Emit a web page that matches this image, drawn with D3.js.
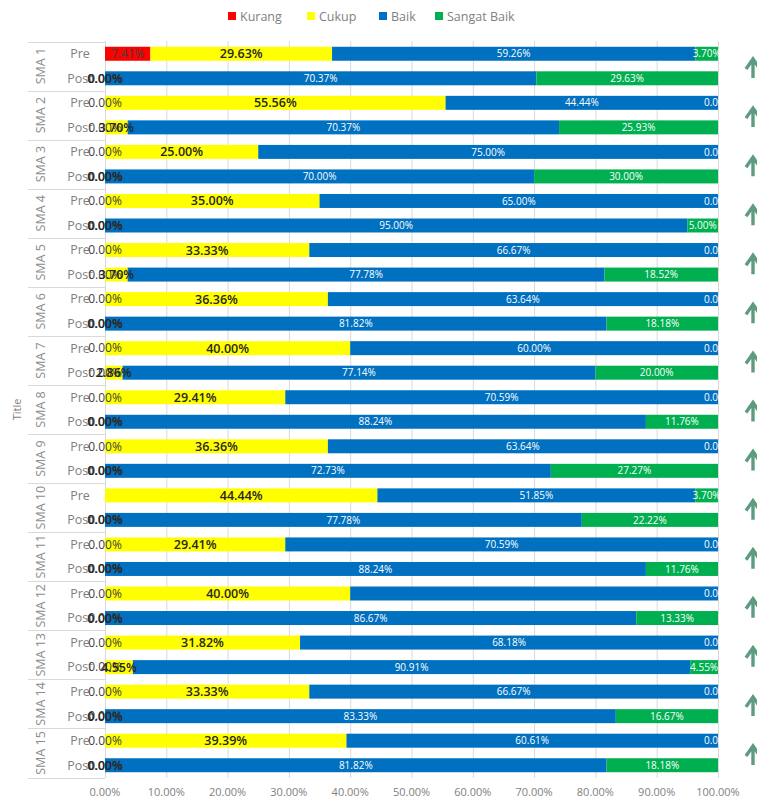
<!DOCTYPE html>
<html><head><meta charset="utf-8">
<script src="https://cdn.jsdelivr.net/npm/d3@7/dist/d3.min.js"></script>
<style>
html,body{margin:0;padding:0;background:#fff;}
svg{display:block;font-family:"Open Sans","Noto Sans",sans-serif;}
</style></head>
<body>
<svg id="chart" width="757" height="807"></svg>
<script>
const schools = ["SMA 1","SMA 2","SMA 3","SMA 4","SMA 5","SMA 6","SMA 7","SMA 8","SMA 9","SMA 10","SMA 11","SMA 12","SMA 13","SMA 14","SMA 15"];
const phases = ["Pre","Post"];
const seriesNames = ["Kurang","Cukup","Baik","Sangat Baik"];
const seriesColors = ["#FF0000","#FFFF00","#0070C0","#00B050"];
const labelColors = ["#404040","#262626","#ffffff","#ffffff"];
// row order: SMA 1 Pre, SMA 1 Post, SMA 2 Pre, ...
const kurang = [7.41,0, 0,0, 0,0, 0,0, 0,0, 0,0, 0,0, 0,0, 0,0, null,0, 0,0, 0,0, 0,0, 0,0, 0,0];
const cukup = [29.63,0, 55.56,3.70, 25.00,0, 35.00,0, 33.33,3.70, 36.36,0, 40.00,2.86, 29.41,0, 36.36,0, 44.44,0, 29.41,0, 40.00,0, 31.82,4.55, 33.33,0, 39.39,0];
const baik = [59.26,70.37, 44.44,70.37, 75.00,70.00, 65.00,95.00, 66.67,77.78, 63.64,81.82, 60.00,77.14, 70.59,88.24, 63.64,72.73, 51.85,77.78, 70.59,88.24, 60.00,86.67, 68.18,90.91, 66.67,83.33, 60.61,81.82];
const sangatBaik = [3.70,29.63, 0,25.93, 0,30.00, 0,5.00, 0,18.52, 0,18.18, 0,20.00, 0,11.76, 0,27.27, 3.70,22.22, 0,11.76, 0,13.33, 0,4.55, 0,16.67, 0,18.18];
const hiddenLabels = ["SMA 12|Pre|Baik"];
const xTicks = [0,10,20,30,40,50,60,70,80,90,100];
const axisTitle = "Title";

const seriesValues = [kurang, cukup, baik, sangatBaik];
const rows = [];
schools.forEach((s,i)=>phases.forEach((p,j)=>rows.push({school:s, phase:p, key:s+"|"+p, idx:i*2+j})));

const svg = d3.select("#chart");
const x = d3.scaleLinear().domain([0,100]).range([105,718]);
const y = d3.scaleBand().domain(rows.map(r=>r.key)).range([41.5,777.5]).paddingInner(0.43).paddingOuter(0.215);
const gScale = d3.scaleBand().domain(schools).range([41.5,777.5]);

// gridlines
svg.append("g").selectAll("line").data(xTicks).join("line")
  .attr("x1",d=>x(d)+0.5).attr("x2",d=>x(d)+0.5)
  .attr("y1",41).attr("y2",778)
  .attr("stroke","#d9d9d9").attr("stroke-width",1);

// left category separators
svg.append("g").selectAll("line").data(schools.concat(["__end"])).join("line")
  .attr("x1",28).attr("x2",105)
  .attr("y1",(d,i)=>Math.round(41.5+i*gScale.step())+0.5)
  .attr("y2",(d,i)=>Math.round(41.5+i*gScale.step())+0.5)
  .attr("stroke","#d9d9d9").attr("stroke-width",1);

// stacked segments
const segs = [];
rows.forEach(r=>{
  let cum = 0;
  seriesValues.forEach((arr,k)=>{
    const v = arr[r.idx];
    segs.push({row:r, k, v, x0:cum, x1:cum+(v||0)});
    cum += (v||0);
  });
});
svg.append("g").selectAll("rect").data(segs.filter(d=>d.v>0)).join("rect")
  .attr("x",d=>x(d.x0)).attr("width",d=>Math.max(0,x(Math.min(100,d.x1))-x(d.x0)))
  .attr("y",d=>y(d.row.key)).attr("height",y.bandwidth())
  .attr("fill",d=>seriesColors[d.k]);

// category labels
svg.append("g").selectAll("text").data(rows).join("text")
  .attr("x",80).attr("y",d=>y(d.key)+y.bandwidth()/2)
  .attr("dy","0.35em").attr("text-anchor","middle")
  .attr("font-size",12.5).attr("fill","#7f7f7f").text(d=>d.phase);

svg.append("g").selectAll("text").data(schools).join("text")
  .attr("transform",d=>`translate(45,${gScale(d)+gScale.bandwidth()/2}) rotate(-90)`)
  .attr("text-anchor","middle").attr("font-size",12.5).attr("fill","#8c8c8c").text(d=>d);

svg.append("text").attr("transform",`translate(21,${(41.5+777.5)/2}) rotate(-90)`)
  .attr("text-anchor","middle").attr("font-size",11).attr("fill","#7f7f7f").text(axisTitle);

// data labels
const fmt = v=>v.toFixed(2)+"%";
const lblSizes = [12,12.5,10,10];
svg.append("g").selectAll("text")
  .data(segs.filter(d=>d.v!==null && !hiddenLabels.includes(d.row.key+"|"+seriesNames[d.k])))
  .join("text")
  .attr("x",d=>x((d.x0+d.x1)/2)).attr("y",d=>y(d.row.key)+y.bandwidth()/2)
  .attr("dy","0.36em").attr("text-anchor","middle")
  .attr("font-size",d=>lblSizes[d.k]).attr("fill",d=>labelColors[d.k])
  .attr("font-weight",d=>d.k===1?600:400)
  .text(d=>fmt(d.v));

// x axis labels
svg.append("g").selectAll("text").data(xTicks).join("text")
  .attr("x",d=>x(d)).attr("y",796).attr("text-anchor","middle")
  .attr("font-size",11).attr("fill","#7f7f7f").text(d=>d.toFixed(2)+"%");

// legend
const legend = svg.append("g").attr("transform","translate(228,16)");
const legX = [0,79,151,207];
seriesNames.forEach((n,i)=>{
  legend.append("rect").attr("x",legX[i]).attr("y",-4).attr("width",8).attr("height",8).attr("fill",seriesColors[i]);
  legend.append("text").attr("x",legX[i]+12).attr("y",0).attr("dy","0.36em")
    .attr("font-size",12.5).attr("fill","#7f7f7f").text(n);
});

// decorative arrows at right (cut by the page edge, as in the reference)
svg.append("g").selectAll("path").data(schools).join("path")
  .attr("transform",d=>`translate(753,${gScale(d)+gScale.bandwidth()/2+2})`)
  .attr("d","M0,10 L0,-8 M-7,1 L0,-9 L7,1")
  .attr("fill","none").attr("stroke","#5e9c80").attr("stroke-width",3.4)
  .attr("stroke-linecap","butt");
</script>
</body></html>
